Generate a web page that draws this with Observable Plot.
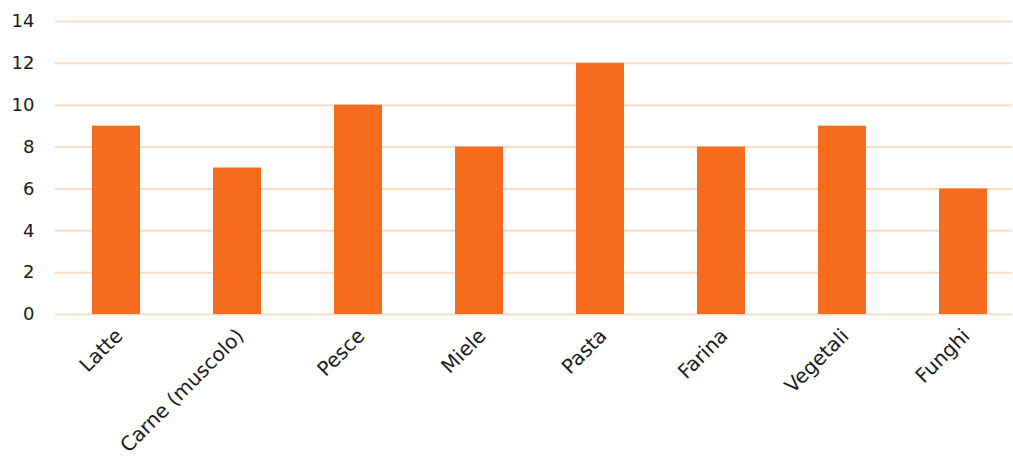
<!DOCTYPE html>
<html>
<head>
<meta charset="utf-8">
<script src="https://cdn.jsdelivr.net/npm/d3@7"></script>
<script src="https://cdn.jsdelivr.net/npm/@observablehq/plot@0.6"></script>
<style>
  html, body { margin: 0; padding: 0; background: #fff; }
  svg { display: block; }
</style>
</head>
<body>
<div id="chart"></div>
<script>
const categories = ["Latte", "Carne (muscolo)", "Pesce", "Miele", "Pasta", "Farina", "Vegetali", "Funghi"];
const values = [9, 7, 10, 8, 12, 8, 9, 6];
const yTicks = [0, 2, 4, 6, 8, 10, 12, 14];

const data = categories.map((c, i) => ({category: c, value: values[i]}));

const chart = Plot.plot({
  width: 1013,
  height: 461,
  marginLeft: 55,
  marginRight: 1,
  marginTop: 21,
  marginBottom: 147,
  style: {fontFamily: "'DejaVu Sans', sans-serif", fontSize: "17px", color: "#1a1a1a", background: "#fff"},
  x: {domain: categories, range: [54, 1024.5], paddingInner: 0.6, paddingOuter: 0.3, label: null},
  y: {domain: [0, 14], ticks: yTicks, label: null},
  marks: [
    Plot.ruleY(yTicks, {stroke: "#fcdcc6", strokeWidth: 2}),
    Plot.barY(data, {x: "category", y: "value", fill: "#f76b1c"}),
    Plot.axisY({ticks: yTicks, tickSize: 0, tickPadding: 21, fontSize: 18, label: null}),
    Plot.axisX({tickSize: 0, tickRotate: -45, tickPadding: 18, fontSize: 20, label: null, dx: 3})
  ]
});
document.getElementById("chart").append(chart);
</script>
</body>
</html>
